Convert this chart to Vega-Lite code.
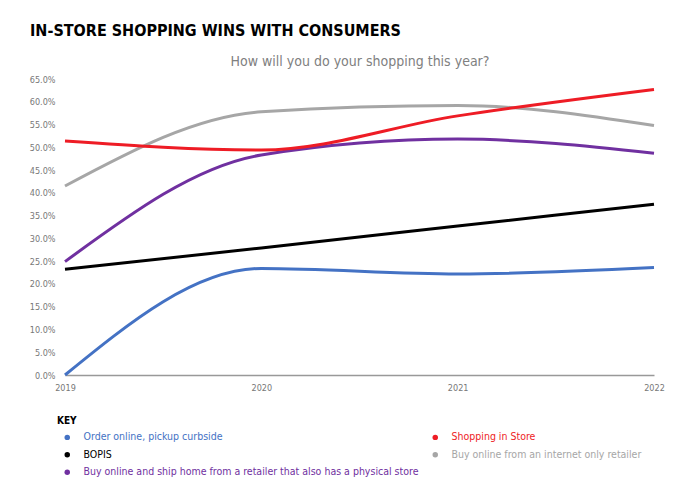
{
  "$schema": "https://vega.github.io/schema/vega-lite/v6.json",
  "width": 589,
  "height": 296,
  "autosize": {"type": "none"},
  "padding": {"left": 65, "top": 79, "right": 30, "bottom": 122},
  "background": "white",
  "config": {
    "view": {"stroke": null},
    "font": "DejaVu Sans Condensed, Roboto, sans-serif"
  },
  "title": {
    "text": "IN-STORE SHOPPING WINS WITH CONSUMERS",
    "anchor": "start",
    "frame": "group",
    "dx": -35,
    "offset": 15,
    "fontSize": 16,
    "fontWeight": "bold",
    "font": "DejaVu Sans Condensed, Roboto, sans-serif",
    "color": "#000000"
  },
  "data": {
    "values": [
      {"year": 2019, "series": "Order online, pickup curbside", "value": 0.0},
      {"year": 2020, "series": "Order online, pickup curbside", "value": 0.234},
      {"year": 2021, "series": "Order online, pickup curbside", "value": 0.222},
      {"year": 2022, "series": "Order online, pickup curbside", "value": 0.236},
      {"year": 2019, "series": "BOPIS", "value": 0.232},
      {"year": 2020, "series": "BOPIS", "value": 0.279},
      {"year": 2021, "series": "BOPIS", "value": 0.327},
      {"year": 2022, "series": "BOPIS", "value": 0.375},
      {"year": 2019, "series": "Buy online from an internet only retailer", "value": 0.415},
      {"year": 2020, "series": "Buy online from an internet only retailer", "value": 0.578},
      {"year": 2021, "series": "Buy online from an internet only retailer", "value": 0.592},
      {"year": 2022, "series": "Buy online from an internet only retailer", "value": 0.548},
      {"year": 2019, "series": "Buy online and ship home from a retailer that also has a physical store", "value": 0.249},
      {"year": 2020, "series": "Buy online and ship home from a retailer that also has a physical store", "value": 0.483},
      {"year": 2021, "series": "Buy online and ship home from a retailer that also has a physical store", "value": 0.518},
      {"year": 2022, "series": "Buy online and ship home from a retailer that also has a physical store", "value": 0.487},
      {"year": 2019, "series": "Shopping in Store", "value": 0.514},
      {"year": 2020, "series": "Shopping in Store", "value": 0.494},
      {"year": 2021, "series": "Shopping in Store", "value": 0.569},
      {"year": 2022, "series": "Shopping in Store", "value": 0.627}
    ]
  },
  "encoding": {
    "y": {
      "field": "value", "type": "quantitative",
      "scale": {"domain": [0, 0.65], "nice": false},
      "axis": {
        "values": [0, 0.05, 0.1, 0.15, 0.2, 0.25, 0.3, 0.35, 0.4, 0.45, 0.5, 0.55, 0.6, 0.65],
        "format": ".1%", "title": null, "grid": false, "ticks": false, "domain": false,
        "labelOverlap": false,
        "labelColor": "#777777", "labelFontSize": 9, "labelPadding": 10
      }
    }
  },
  "resolve": {"axis": {"x": "independent"}},
  "layer": [
    {
      "mark": {"type": "line", "interpolate": "monotone", "strokeWidth": 3},
      "encoding": {
        "x": {
          "field": "year", "type": "quantitative",
          "scale": {"domain": [2019, 2022]},
          "axis": {
            "values": [2019, 2020, 2021, 2022], "format": "d", "title": null,
            "labelFlush": false, "grid": false, "ticks": false,
            "domainColor": "#999999", "domainWidth": 1.5,
            "labelColor": "#777777", "labelFontSize": 9, "labelPadding": 8
          }
        },
        "color": {
          "field": "series", "type": "nominal",
          "scale": {
            "domain": ["Order online, pickup curbside", "BOPIS", "Buy online and ship home from a retailer that also has a physical store", "Shopping in Store", "Buy online from an internet only retailer"],
            "range": ["#4472C4", "#000000", "#7030A0", "#EE1C25", "#A6A6A6"]
          },
          "legend": {
            "orient": "none",
            "legendX": -8,
            "legendY": 337,
            "direction": "vertical",
            "columns": 2,
            "columnPadding": 6,
            "rowPadding": 6.5,
            "title": "KEY",
            "titleFontSize": 10,
            "titleFontWeight": "bold",
            "titleColor": "#000000",
            "titlePadding": 6,
            "symbolType": "circle",
            "symbolSize": 30,
            "symbolStrokeWidth": 0,
            "symbolOffset": 5,
            "labelOffset": 11,
            "labelFontSize": 10.5,
            "labelLimit": 400,
            "padding": 0,
            "encode": {
              "labels": {"update": {"fill": {"scale": "color", "field": "value"}}},
              "symbols": {"update": {"fill": {"scale": "color", "field": "value"}, "stroke": {"value": "transparent"}}}
            }
          }
        }
      }
    },
    {
      "mark": {"type": "line", "interpolate": "monotone", "strokeOpacity": 0},
      "encoding": {
        "x": {
          "field": "year", "type": "quantitative",
          "axis": {
            "orient": "top", "title": "How will you do your shopping this year?",
            "labels": false, "ticks": false, "domain": false, "grid": false,
            "titleFontSize": 14, "titleFontWeight": "normal", "titleColor": "#808080",
            "titlePadding": 11, "titleFont": "DejaVu Sans Condensed, Roboto, sans-serif"
          }
        },
        "detail": {"field": "series"}
      }
    }
  ]
}
